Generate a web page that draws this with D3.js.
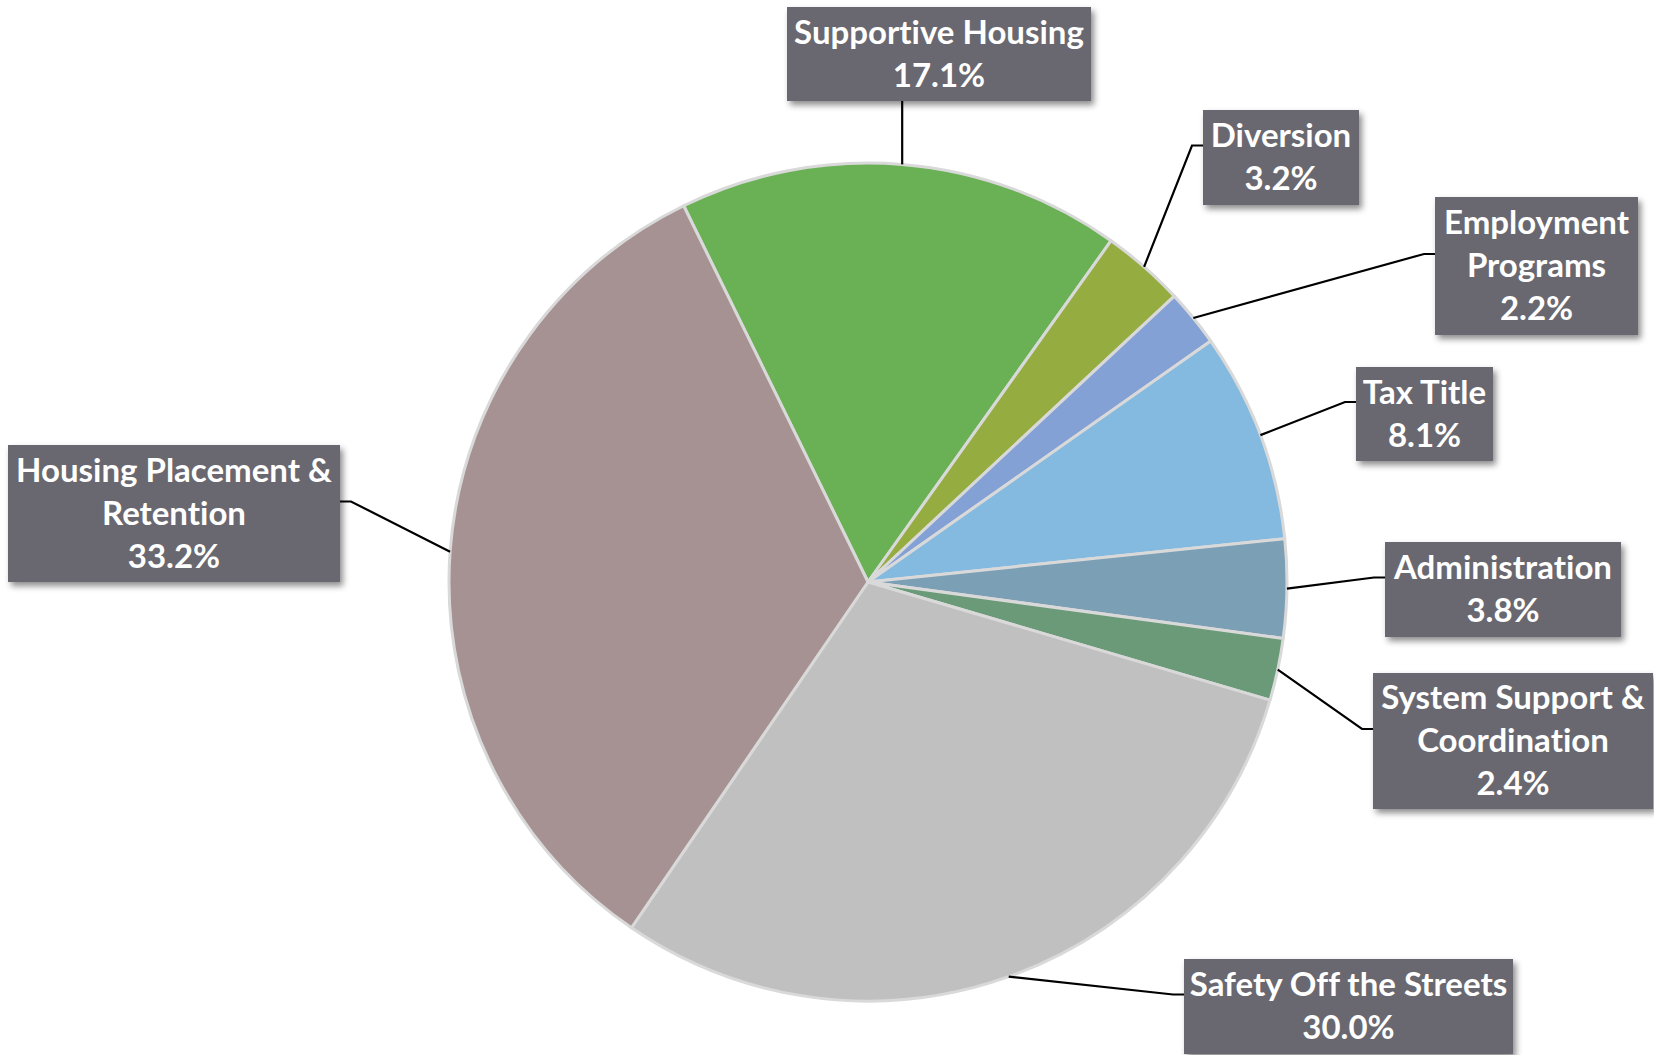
<!DOCTYPE html>
<html>
<head>
<meta charset="utf-8">
<script src="https://cdn.jsdelivr.net/npm/d3@7"></script>
<style>
  html, body { margin: 0; padding: 0; background: #ffffff; }
  svg { display: block; }
  text { font-variant-ligatures: none; font-feature-settings: "liga" 0, "clig" 0; }
</style>
</head>
<body>
<svg id="chart" width="1654" height="1055"></svg>
<script>
// ---- data ----
const categories = [
  "Supportive Housing",
  "Diversion",
  "Employment Programs",
  "Tax Title",
  "Administration",
  "System Support & Coordination",
  "Safety Off the Streets",
  "Housing Placement & Retention"
];
const shares = [17.1, 3.2, 2.2, 8.1, 3.8, 2.4, 30.0, 33.2];
const labelLines = [
  ["Supportive Housing"],
  ["Diversion"],
  ["Employment", "Programs"],
  ["Tax Title"],
  ["Administration"],
  ["System Support &", "Coordination"],
  ["Safety Off the Streets"],
  ["Housing Placement &", "Retention"]
];

// ---- styles / layout ----
const sliceColors = ["#6AB155", "#95AC41", "#84A1D6", "#84B9E0", "#7B9FB4", "#6A9A78", "#C0C0C0", "#A69292"];
const cx = 868, cy = 582, radius = 419;
const startDeg = -26.1;
// label box layout: [left, top, width, height, side]
const boxLayout = [
  [787, 7, 304, 94, "bottom"],
  [1203, 110, 156, 95, "left"],
  [1435, 197, 203, 138, "left"],
  [1356, 367, 137, 94, "left"],
  [1385, 542, 236, 95, "left"],
  [1373, 673, 280, 136, "left"],
  [1184, 959, 329, 95, "left"],
  [8, 445, 332, 137, "right"]
];

const svg = d3.select("#chart");
const defs = svg.append("defs");
const f = defs.append("filter").attr("id", "shadow")
  .attr("x", "-10%").attr("y", "-10%").attr("width", "130%").attr("height", "140%");
f.append("feDropShadow").attr("dx", 3).attr("dy", 4).attr("stdDeviation", 3)
  .attr("flood-color", "#000").attr("flood-opacity", 0.45);

const data = categories.map((c, i) => ({ name: c, value: shares[i], i }));
const start = startDeg * Math.PI / 180;
const pie = d3.pie().sort(null).value(d => d.value)
  .startAngle(start).endAngle(start + 2 * Math.PI);
const arcs = pie(data);
const arc = d3.arc().innerRadius(0).outerRadius(radius);

const g = svg.append("g").attr("transform", `translate(${cx},${cy})`);
g.selectAll("path.slice").data(arcs).enter().append("path")
  .attr("class", "slice")
  .attr("d", arc)
  .attr("fill", d => sliceColors[d.data.i])
  .attr("stroke", "#D9D9D9")
  .attr("stroke-width", 3)
  .attr("stroke-linejoin", "round");

// leader lines
const leaders = svg.append("g");
arcs.forEach(d => {
  const mid = (d.startAngle + d.endAngle) / 2;
  const px = cx + radius * Math.sin(mid);
  const py = cy - radius * Math.cos(mid);
  const [bx, by, bw, bh, side] = boxLayout[d.data.i];
  let pts;
  if (side === "bottom") {
    pts = [[px, by + bh], [px, py]];
  } else if (side === "left") {
    const ay = by + bh / 2 - 12;
    pts = [[bx, ay], [bx - 11, ay], [px, py]];
  } else {
    const ay = by + bh / 2 - 12;
    pts = [[bx + bw, ay], [bx + bw + 11, ay], [px, py]];
  }
  leaders.append("path")
    .attr("d", d3.line()(pts))
    .attr("fill", "none")
    .attr("stroke", "#000")
    .attr("stroke-width", 2.2);
});

// label boxes
const labels = svg.append("g");
arcs.forEach(d => {
  const i = d.data.i;
  const [bx, by, bw, bh] = boxLayout[i];
  const lines = labelLines[i].concat([d3.format(".1f")(shares[i]) + "%"]);
  const lg = labels.append("g");
  lg.append("rect")
    .attr("x", bx).attr("y", by).attr("width", bw).attr("height", bh)
    .attr("fill", "#69686F")
    .attr("filter", "url(#shadow)");
  const lh = 43;
  const midY = by + bh / 2;
  lines.forEach((t, k) => {
    const c = midY + (k - (lines.length - 1) / 2) * lh;
    lg.append("text")
      .attr("x", bx + bw / 2)
      .attr("y", c + 11)
      .attr("text-anchor", "middle")
      .attr("font-family", "Lato, 'Open Sans', sans-serif")
      .attr("font-weight", 700)
      .attr("font-size", 33)
      .attr("fill", "#FFFFFF")
      .text(t);
  });
});
</script>
</body>
</html>
